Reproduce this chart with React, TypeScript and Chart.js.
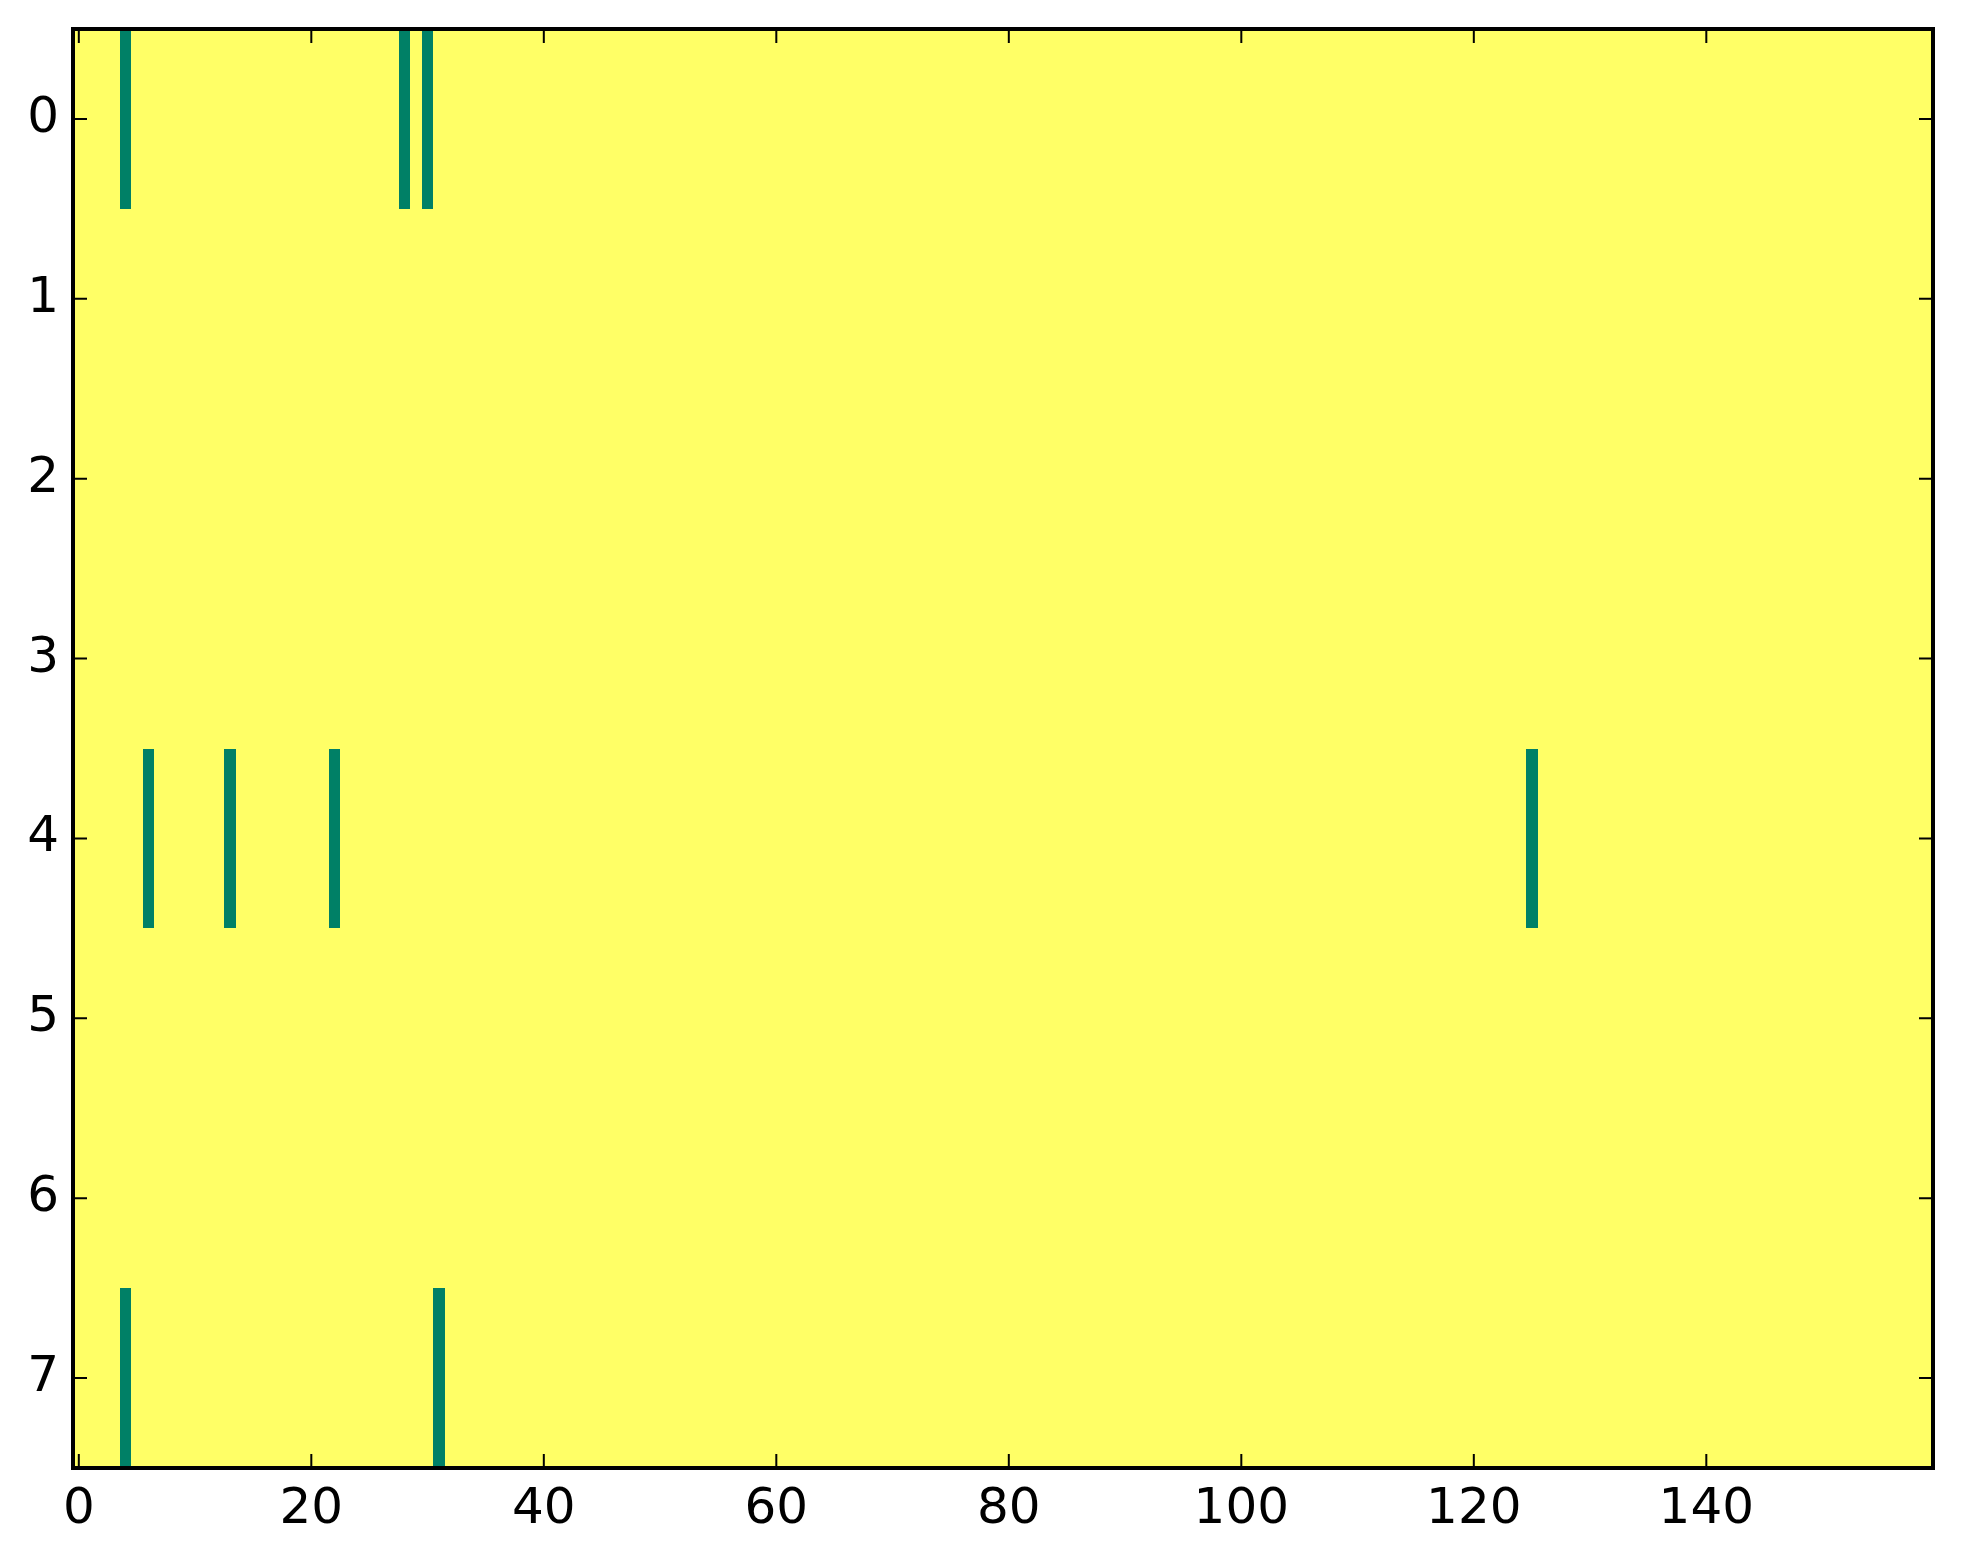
import React, { useEffect, useRef } from "react";
import { Chart, registerables } from "chart.js";

Chart.register(...registerables);

// ---- data ----
const ROW_COUNT = 8;
const COLUMN_COUNT = 160;
const xTickValues = [0, 20, 40, 60, 80, 100, 120, 140];
const yTickValues = [0, 1, 2, 3, 4, 5, 6, 7];
// columns holding value 0 (green); every other cell holds value 1 (yellow)
const row0Zeros = [4, 28, 30];
const row4Zeros = [6, 13, 22, 125];
const row7Zeros = [4, 31];
const zeroCellsByRow: Record<number, number[]> = { 0: row0Zeros, 4: row4Zeros, 7: row7Zeros };

const colorLow = "#008066"; // value 0 (summer colormap min)
const colorHigh = "#ffff66"; // value 1 (summer colormap max)

type Cell = { x: number; y: number; v: number };

function buildCells(): Cell[] {
  const cells: Cell[] = [];
  for (let r = 0; r < ROW_COUNT; r++) {
    const zeros = zeroCellsByRow[r] || [];
    for (let c = 0; c < COLUMN_COUNT; c++) {
      cells.push({ x: c, y: r, v: zeros.includes(c) ? 0 : 1 });
    }
  }
  return cells;
}

const FONT = { family: "'DejaVu Sans', sans-serif", size: 50 };

const heatmapPlugin = {
  id: "heatmapCells",
  beforeDatasetsDraw(chart: any) {
    const { ctx, chartArea } = chart;
    const xs = chart.scales.x;
    const ys = chart.scales.y;
    ctx.save();
    ctx.beginPath();
    ctx.rect(chartArea.left, chartArea.top, chartArea.right - chartArea.left, chartArea.bottom - chartArea.top);
    ctx.clip();
    const data: Cell[] = chart.data.datasets[0].data;
    for (const d of data) {
      const x0 = Math.round(xs.getPixelForValue(d.x - 0.5));
      const x1 = Math.round(xs.getPixelForValue(d.x + 0.5));
      const y0 = Math.round(ys.getPixelForValue(d.y - 0.5));
      const y1 = Math.round(ys.getPixelForValue(d.y + 0.5));
      ctx.fillStyle = d.v === 0 ? colorLow : colorHigh;
      ctx.fillRect(Math.min(x0, x1), Math.min(y0, y1), Math.abs(x1 - x0), Math.abs(y1 - y0));
    }
    ctx.restore();
  },
  afterDraw(chart: any) {
    const { ctx, chartArea } = chart;
    const xs = chart.scales.x;
    const ys = chart.scales.y;
    const tickLen = 14;
    ctx.save();
    ctx.strokeStyle = "#000";
    ctx.lineWidth = 2;
    ctx.beginPath();
    for (const t of xs.ticks) {
      const px = xs.getPixelForValue(t.value);
      ctx.moveTo(px, chartArea.bottom);
      ctx.lineTo(px, chartArea.bottom - tickLen);
      ctx.moveTo(px, chartArea.top);
      ctx.lineTo(px, chartArea.top + tickLen);
    }
    for (const t of ys.ticks) {
      const py = ys.getPixelForValue(t.value);
      ctx.moveTo(chartArea.left, py);
      ctx.lineTo(chartArea.left + tickLen, py);
      ctx.moveTo(chartArea.right, py);
      ctx.lineTo(chartArea.right - tickLen, py);
    }
    ctx.stroke();
    ctx.lineWidth = 4;
    ctx.strokeRect(chartArea.left, chartArea.top, chartArea.right - chartArea.left, chartArea.bottom - chartArea.top);
    ctx.restore();
  },
};

export default function App() {
  const canvasRef = useRef<HTMLCanvasElement | null>(null);

  useEffect(() => {
    document.body.style.margin = "0";
    document.body.style.overflow = "hidden";
    const canvas = canvasRef.current;
    if (!canvas) return;
    const chart = new Chart(canvas, {
      type: "scatter",
      data: {
        datasets: [
          {
            data: buildCells() as any,
            pointRadius: 0,
            pointHoverRadius: 0,
            showLine: false,
          },
        ],
      },
      options: {
        animation: false,
        responsive: false,
        devicePixelRatio: 1,
        events: [],
        layout: { padding: { left: 0, top: 0, right: 30, bottom: 0 } },
        plugins: { legend: { display: false }, tooltip: { enabled: false } },
        scales: {
          x: {
            type: "linear",
            min: -0.5,
            max: COLUMN_COUNT - 0.5,
            grid: { display: false, drawTicks: false },
            border: { display: false },
            afterBuildTicks: (s: any) => {
              s.ticks = xTickValues.map((v) => ({ value: v }));
            },
            afterFit: (s: any) => {
              s.height = 96;
            },
            ticks: {
              autoSkip: false,
              maxRotation: 0,
              color: "#000",
              font: FONT,
              padding: 12,
              callback: (v: any) => String(v),
            },
          },
          y: {
            type: "linear",
            reverse: true,
            min: -0.5,
            max: ROW_COUNT - 0.5,
            grid: { display: false, drawTicks: false },
            border: { display: false },
            afterBuildTicks: (s: any) => {
              s.ticks = yTickValues.map((v) => ({ value: v }));
            },
            afterFit: (s: any) => {
              s.width = 73;
              s.paddingTop = 29;
              s.paddingBottom = 0;
            },
            ticks: {
              autoSkip: false,
              color: "#000",
              font: FONT,
              padding: 14,
              callback: (v: any) => String(v),
            },
          },
        },
      },
      plugins: [heatmapPlugin],
    });
    return () => chart.destroy();
  }, []);

  return (
    <div style={{ width: 1963, height: 1564, background: "#fff" }}>
      <canvas ref={canvasRef} width={1963} height={1564} style={{ width: 1963, height: 1564, display: "block" }} />
    </div>
  );
}
